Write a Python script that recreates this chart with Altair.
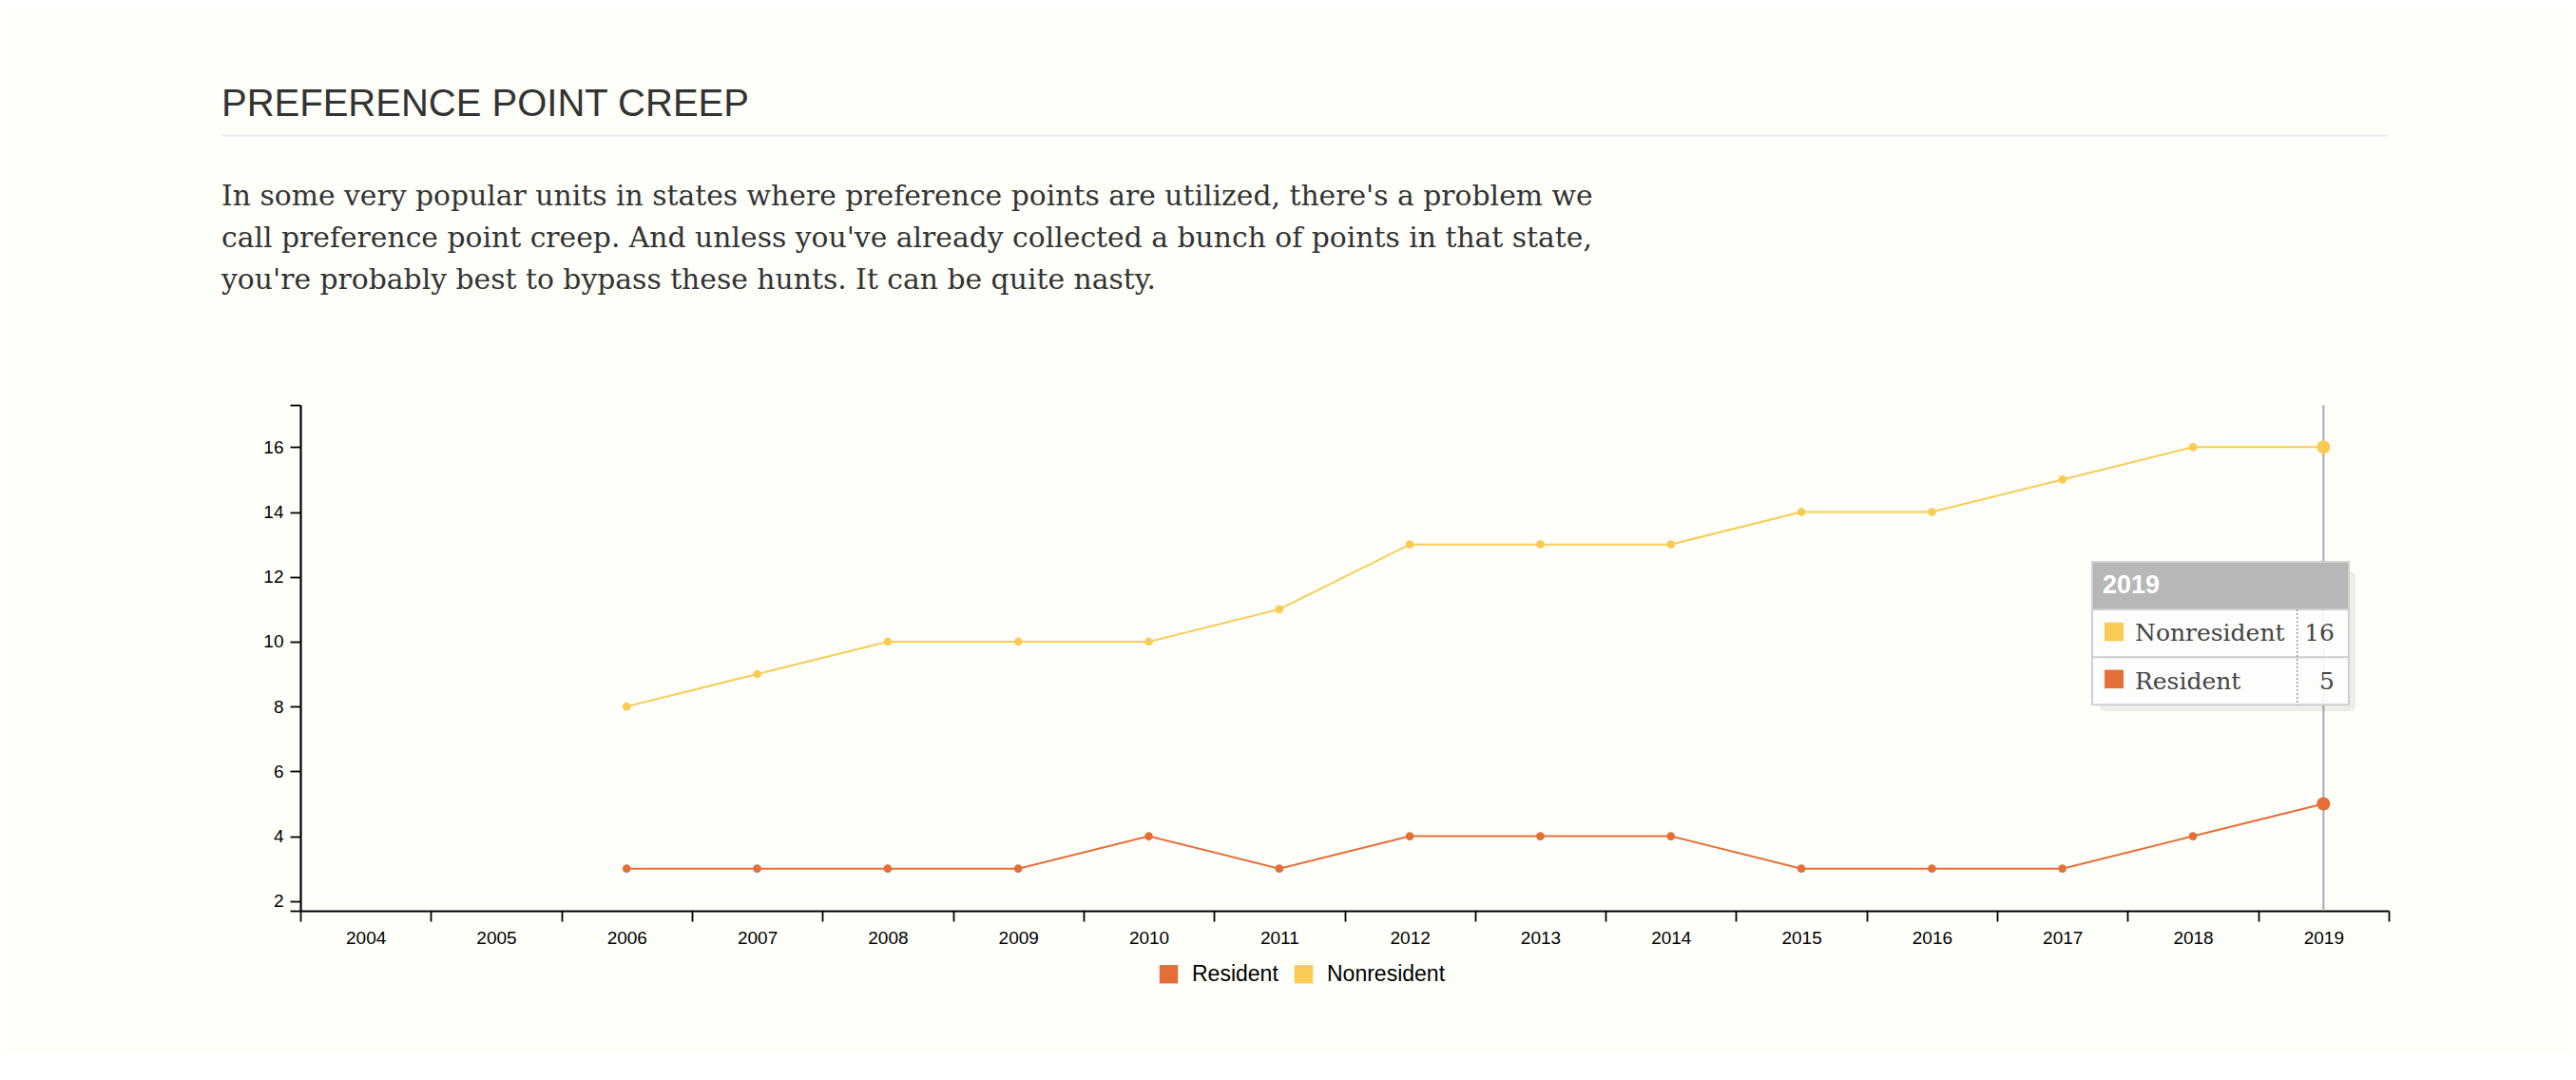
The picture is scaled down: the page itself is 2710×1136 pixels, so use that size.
import altair as alt
import pandas as pd

# ---------------- data ----------------
years = [str(y) for y in range(2004, 2020)]
data_years = [str(y) for y in range(2006, 2020)]
resident = [3, 3, 3, 3, 4, 3, 4, 4, 4, 3, 3, 3, 4, 5]
nonresident = [8, 9, 10, 10, 10, 11, 13, 13, 13, 14, 14, 15, 16, 16]
series = ["Resident", "Nonresident"]
colors = ["#e46e38", "#f9cb55"]
y_ticks = [2, 4, 6, 8, 10, 12, 14, 16]
y_domain = [1.7, 17.3]
hover_year = "2019"
title_text = "PREFERENCE POINT CREEP"
paragraph = [
    "In some very popular units in states where preference points are utilized, there's a problem we",
    "call preference point creep. And unless you've already collected a bunch of points in that state,",
    "you're probably best to bypass these hunts. It can be quite nasty.",
]

rows = []
for i, yr in enumerate(data_years):
    rows.append({"year": yr, "series": "Resident", "value": resident[i]})
    rows.append({"year": yr, "series": "Nonresident", "value": nonresident[i]})
df = pd.DataFrame(rows)
hover_df = pd.DataFrame({"year": [hover_year]})
one = pd.DataFrame({"k": [0]})

W, H = 2197, 532
AX_FONT = "Liberation Sans"
SERIF = "DejaVu Serif"

x_enc = alt.X(
    "year:O",
    scale=alt.Scale(type="band", domain=years, paddingInner=0, paddingOuter=0),
    axis=alt.Axis(
        title=None, tickBand="extent", labelAngle=0, tickSize=11, labelPadding=8,
        labelFontSize=19, labelFont=AX_FONT, labelColor="#000",
        domainColor="#000", tickColor="#000", domainWidth=2.2, tickWidth=1.8,
        grid=False,
    ),
)
y_enc = alt.Y(
    "value:Q",
    scale=alt.Scale(domain=y_domain, nice=False, zero=False),
    axis=alt.Axis(
        title=None, values=[y_domain[0]] + y_ticks + [y_domain[1]],
        labelExpr="(datum.value < 1.9 || datum.value > 17) ? '' : datum.label",
        format="d", tickSize=11, labelPadding=7, labelFontSize=19,
        labelFont=AX_FONT, labelColor="#000", domainColor="#000",
        tickColor="#000", domainWidth=2.2, tickWidth=1.8, grid=False,
        labelOverlap=False,
    ),
)
legend_def = alt.Legend(
    orient="none", legendX=902, legendY=587, direction="horizontal",
    symbolType="square", symbolSize=376, symbolStrokeWidth=0,
    labelFontSize=23, labelFont=AX_FONT, labelColor="#000", title=None,
    labelOffset=13, columnPadding=15, padding=0, symbolOpacity=1,
)
color_enc = alt.Color("series:N", scale=alt.Scale(domain=series, range=colors), legend=legend_def)

hover_rule = alt.Chart(hover_df).mark_rule(color="#a9a9ae", strokeWidth=2).encode(
    x=x_enc, y=alt.value(0), y2=alt.value(H)
)
lines = alt.Chart(df).mark_line(strokeWidth=2).encode(x=x_enc, y=y_enc, color=color_enc)
points = alt.Chart(df).mark_point(filled=True, size=75, opacity=1).encode(
    x=x_enc, y=y_enc, color=color_enc
)
big_points = alt.Chart(df).transform_filter(f"datum.year == '{hover_year}'").mark_point(
    filled=True, size=200, opacity=1
).encode(x=x_enc, y=y_enc, color=color_enc)

# ---------------- heading ----------------
title = alt.Chart(one).mark_text(
    text=title_text, align="left", baseline="alphabetic", font=AX_FONT, fontSize=40, color="#333333"
).encode(x=alt.value(-83), y=alt.value(-304))
title_rule = alt.Chart(one).mark_rule(color="#ebebeb", strokeWidth=2).encode(
    x=alt.value(-83), x2=alt.value(2196), y=alt.value(-283.4)
)
para = alt.Chart(one).mark_text(
    text=paragraph, align="left", baseline="alphabetic", font=SERIF, fontSize=29.8,
    lineHeight=44, color="#333333"
).encode(x=alt.value(-83), y=alt.value(-210))

# ---------------- tooltip ----------------
TX0, TX1, TY0, TYH, TYR, TY1, TXD = 1885, 2155, 165, 215, 265.3, 315.3, 2100.7
shadow = alt.Chart(one).mark_rect(fill="#777777", opacity=0.12, cornerRadius=6).encode(
    x=alt.value(TX0 + 8), x2=alt.value(TX1 + 7), y=alt.value(TY0 + 10), y2=alt.value(TY1 + 7)
)
tip_box = alt.Chart(one).mark_rect(fill="#ffffff", opacity=0.9, stroke="#cccccc", strokeWidth=2).encode(
    x=alt.value(TX0), x2=alt.value(TX1), y=alt.value(TY0), y2=alt.value(TY1)
)
tip_head = alt.Chart(one).mark_rect(fill="#b3b3b3", opacity=0.95).encode(
    x=alt.value(TX0 + 1), x2=alt.value(TX1 - 1), y=alt.value(TY0 + 1), y2=alt.value(TYH)
)
tip_head_text = alt.Chart(hover_df).mark_text(
    align="left", baseline="alphabetic", font=AX_FONT, fontSize=27, fontWeight="bold", color="#ffffff"
).encode(x=alt.value(TX0 + 11), y=alt.value(198), text="year:N")
tip_sep = alt.Chart(one).mark_rule(color="#cccccc", strokeWidth=2).encode(
    x=alt.value(TX0), x2=alt.value(TX1), y=alt.value(TYR)
)
tip_sep2 = alt.Chart(one).mark_rule(color="#cccccc", strokeWidth=2).encode(
    x=alt.value(TX0), x2=alt.value(TX1), y=alt.value(TYH)
)
tip_div = alt.Chart(one).mark_rule(color="#999999", strokeWidth=1.5, strokeDash=[2, 2]).encode(
    x=alt.value(TXD), y=alt.value(TYH), y2=alt.value(TY1)
)

tip_layers = []
for s, base, sw0 in [("Nonresident", 248, 228.8), ("Resident", 298.8, 278.6)]:
    sub = alt.Chart(df).transform_filter(f"datum.year == '{hover_year}' && datum.series == '{s}'")
    tip_layers.append(
        sub.mark_rect().encode(
            x=alt.value(TX0 + 13), x2=alt.value(TX0 + 33), y=alt.value(sw0), y2=alt.value(sw0 + 19.5),
            color=color_enc,
        )
    )
    tip_layers.append(
        sub.mark_text(align="left", baseline="alphabetic", font=SERIF, fontSize=25, color="#444444").encode(
            x=alt.value(TX0 + 45), y=alt.value(base), text="series:N"
        )
    )
    tip_layers.append(
        sub.mark_text(align="right", baseline="alphabetic", font=SERIF, fontSize=25, color="#444444").encode(
            x=alt.value(TX1 - 15), y=alt.value(base), text="value:Q"
        )
    )

chart = alt.layer(
    hover_rule, lines, points, big_points, title, title_rule, para,
    shadow, tip_box, tip_head, tip_head_text, tip_sep, tip_sep2, tip_div, *tip_layers
).properties(
    width=W, height=H,
    autosize=alt.AutoSizeParams(type="none"),
    padding={"left": 308, "top": 418, "right": 189, "bottom": 150},
).configure(
    background="#fefff9",
).configure_view(stroke=None)

chart.save("out.html", embed_options={"renderer": "svg", "actions": False})
